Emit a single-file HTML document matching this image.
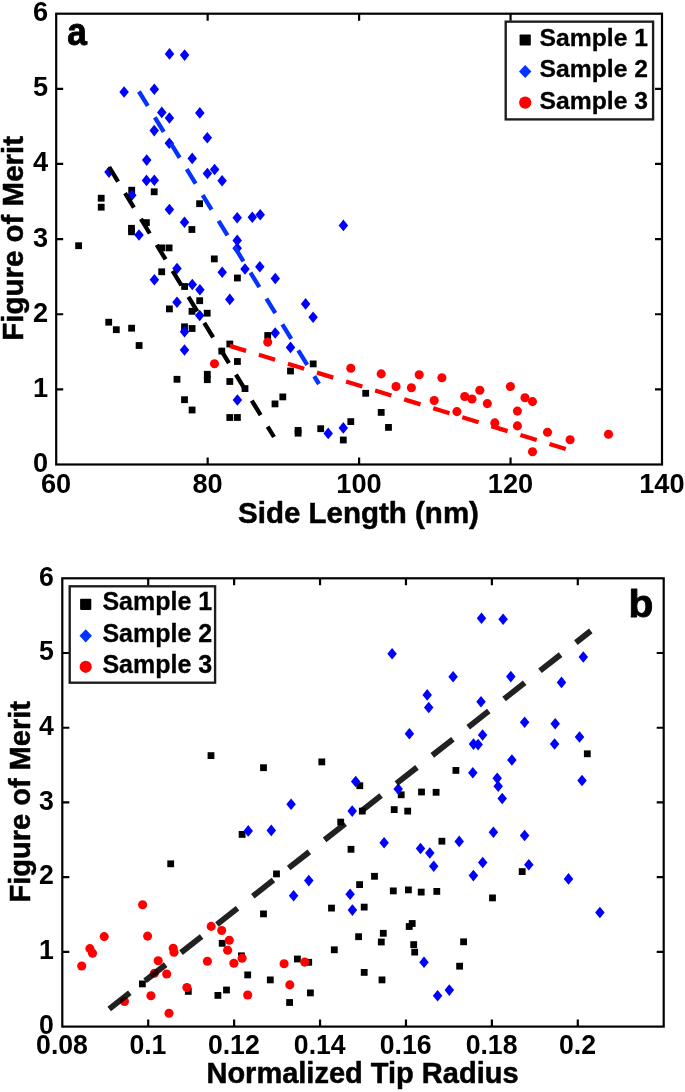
<!DOCTYPE html>
<html><head><meta charset="utf-8"><title>Figure</title>
<style>
html,body{margin:0;padding:0;background:#fff}
svg{display:block}
text{font-family:"Liberation Sans",Arial,Helvetica,sans-serif;font-weight:bold;fill:#000}
.tk{font-size:27.2px}
.ax{font-size:29.5px;stroke:#000;stroke-width:0.5px;stroke-linejoin:round}
.axb{font-size:29px;stroke:#000;stroke-width:0.5px;stroke-linejoin:round}
.lg{font-size:24.7px;stroke:#000;stroke-width:0.3px}
.pl{font-size:39px;stroke:#000;stroke-width:0.9px;stroke-linejoin:round}
</style></head><body>
<svg width="685" height="1092" viewBox="0 0 685 1092">
<rect width="685" height="1092" fill="#fff"/>

<g id="plot-a">
<g fill="#000"><rect x="97.80" y="194.80" width="6.8" height="6.8"/><rect x="97.80" y="203.80" width="6.8" height="6.8"/><rect x="75.20" y="242.30" width="6.8" height="6.8"/><rect x="128.30" y="186.80" width="6.8" height="6.8"/><rect x="150.80" y="188.40" width="6.8" height="6.8"/><rect x="196.20" y="200.30" width="6.8" height="6.8"/><rect x="128.10" y="224.90" width="6.8" height="6.8"/><rect x="128.10" y="228.40" width="6.8" height="6.8"/><rect x="143.00" y="219.20" width="6.8" height="6.8"/><rect x="188.50" y="226.10" width="6.8" height="6.8"/><rect x="158.40" y="244.50" width="6.8" height="6.8"/><rect x="165.70" y="244.50" width="6.8" height="6.8"/><rect x="210.90" y="255.50" width="6.8" height="6.8"/><rect x="158.30" y="268.40" width="6.8" height="6.8"/><rect x="181.20" y="283.10" width="6.8" height="6.8"/><rect x="196.30" y="297.30" width="6.8" height="6.8"/><rect x="166.00" y="305.50" width="6.8" height="6.8"/><rect x="188.60" y="307.90" width="6.8" height="6.8"/><rect x="203.80" y="309.80" width="6.8" height="6.8"/><rect x="105.30" y="318.80" width="6.8" height="6.8"/><rect x="112.90" y="326.30" width="6.8" height="6.8"/><rect x="128.20" y="324.80" width="6.8" height="6.8"/><rect x="135.70" y="342.10" width="6.8" height="6.8"/><rect x="181.10" y="323.40" width="6.8" height="6.8"/><rect x="188.70" y="325.10" width="6.8" height="6.8"/><rect x="218.40" y="347.70" width="6.8" height="6.8"/><rect x="226.40" y="340.60" width="6.8" height="6.8"/><rect x="173.60" y="375.90" width="6.8" height="6.8"/><rect x="203.90" y="370.90" width="6.8" height="6.8"/><rect x="203.90" y="376.30" width="6.8" height="6.8"/><rect x="226.40" y="378.10" width="6.8" height="6.8"/><rect x="181.10" y="396.30" width="6.8" height="6.8"/><rect x="188.70" y="406.60" width="6.8" height="6.8"/><rect x="234.00" y="274.60" width="6.8" height="6.8"/><rect x="264.30" y="332.10" width="6.8" height="6.8"/><rect x="234.00" y="358.10" width="6.8" height="6.8"/><rect x="287.10" y="367.60" width="6.8" height="6.8"/><rect x="241.60" y="385.20" width="6.8" height="6.8"/><rect x="279.40" y="393.50" width="6.8" height="6.8"/><rect x="271.60" y="400.50" width="6.8" height="6.8"/><rect x="226.40" y="414.10" width="6.8" height="6.8"/><rect x="234.00" y="414.10" width="6.8" height="6.8"/><rect x="294.70" y="427.00" width="6.8" height="6.8"/><rect x="294.70" y="429.80" width="6.8" height="6.8"/><rect x="309.80" y="360.50" width="6.8" height="6.8"/><rect x="317.30" y="425.30" width="6.8" height="6.8"/><rect x="347.40" y="418.20" width="6.8" height="6.8"/><rect x="339.90" y="436.60" width="6.8" height="6.8"/><rect x="362.30" y="389.90" width="6.8" height="6.8"/><rect x="377.80" y="409.00" width="6.8" height="6.8"/><rect x="385.10" y="424.00" width="6.8" height="6.8"/></g>
<g fill="#00f"><path d="M169.50 48.10l4.75 5.80l-4.75 5.80l-4.75 -5.80z"/><path d="M184.60 49.30l4.75 5.80l-4.75 5.80l-4.75 -5.80z"/><path d="M124.10 86.20l4.75 5.80l-4.75 5.80l-4.75 -5.80z"/><path d="M154.30 83.50l4.75 5.80l-4.75 5.80l-4.75 -5.80z"/><path d="M161.80 106.60l4.75 5.80l-4.75 5.80l-4.75 -5.80z"/><path d="M169.40 112.20l4.75 5.80l-4.75 5.80l-4.75 -5.80z"/><path d="M199.80 107.10l4.75 5.80l-4.75 5.80l-4.75 -5.80z"/><path d="M154.20 124.80l4.75 5.80l-4.75 5.80l-4.75 -5.80z"/><path d="M207.30 132.00l4.75 5.80l-4.75 5.80l-4.75 -5.80z"/><path d="M169.30 137.40l4.75 5.80l-4.75 5.80l-4.75 -5.80z"/><path d="M192.20 152.60l4.75 5.80l-4.75 5.80l-4.75 -5.80z"/><path d="M146.70 154.30l4.75 5.80l-4.75 5.80l-4.75 -5.80z"/><path d="M109.00 166.30l4.75 5.80l-4.75 5.80l-4.75 -5.80z"/><path d="M146.50 174.60l4.75 5.80l-4.75 5.80l-4.75 -5.80z"/><path d="M154.30 174.40l4.75 5.80l-4.75 5.80l-4.75 -5.80z"/><path d="M207.40 167.70l4.75 5.80l-4.75 5.80l-4.75 -5.80z"/><path d="M214.60 163.70l4.75 5.80l-4.75 5.80l-4.75 -5.80z"/><path d="M222.10 175.00l4.75 5.80l-4.75 5.80l-4.75 -5.80z"/><path d="M131.80 189.50l4.75 5.80l-4.75 5.80l-4.75 -5.80z"/><path d="M169.40 203.70l4.75 5.80l-4.75 5.80l-4.75 -5.80z"/><path d="M184.50 216.50l4.75 5.80l-4.75 5.80l-4.75 -5.80z"/><path d="M139.00 229.20l4.75 5.80l-4.75 5.80l-4.75 -5.80z"/><path d="M177.00 262.70l4.75 5.80l-4.75 5.80l-4.75 -5.80z"/><path d="M154.40 274.00l4.75 5.80l-4.75 5.80l-4.75 -5.80z"/><path d="M222.20 266.50l4.75 5.80l-4.75 5.80l-4.75 -5.80z"/><path d="M192.30 278.70l4.75 5.80l-4.75 5.80l-4.75 -5.80z"/><path d="M199.90 283.90l4.75 5.80l-4.75 5.80l-4.75 -5.80z"/><path d="M177.00 296.40l4.75 5.80l-4.75 5.80l-4.75 -5.80z"/><path d="M199.70 309.70l4.75 5.80l-4.75 5.80l-4.75 -5.80z"/><path d="M184.50 326.00l4.75 5.80l-4.75 5.80l-4.75 -5.80z"/><path d="M184.50 344.20l4.75 5.80l-4.75 5.80l-4.75 -5.80z"/><path d="M229.80 293.60l4.75 5.80l-4.75 5.80l-4.75 -5.80z"/><path d="M245.00 263.20l4.75 5.80l-4.75 5.80l-4.75 -5.80z"/><path d="M259.80 261.00l4.75 5.80l-4.75 5.80l-4.75 -5.80z"/><path d="M275.30 272.70l4.75 5.80l-4.75 5.80l-4.75 -5.80z"/><path d="M237.20 211.90l4.75 5.80l-4.75 5.80l-4.75 -5.80z"/><path d="M252.30 211.40l4.75 5.80l-4.75 5.80l-4.75 -5.80z"/><path d="M260.20 209.00l4.75 5.80l-4.75 5.80l-4.75 -5.80z"/><path d="M343.40 219.60l4.75 5.80l-4.75 5.80l-4.75 -5.80z"/><path d="M237.20 234.60l4.75 5.80l-4.75 5.80l-4.75 -5.80z"/><path d="M237.20 242.40l4.75 5.80l-4.75 5.80l-4.75 -5.80z"/><path d="M275.20 327.20l4.75 5.80l-4.75 5.80l-4.75 -5.80z"/><path d="M290.50 341.60l4.75 5.80l-4.75 5.80l-4.75 -5.80z"/><path d="M237.40 394.20l4.75 5.80l-4.75 5.80l-4.75 -5.80z"/><path d="M328.20 427.60l4.75 5.80l-4.75 5.80l-4.75 -5.80z"/><path d="M343.30 422.10l4.75 5.80l-4.75 5.80l-4.75 -5.80z"/><path d="M305.60 298.10l4.75 5.80l-4.75 5.80l-4.75 -5.80z"/><path d="M313.10 311.40l4.75 5.80l-4.75 5.80l-4.75 -5.80z"/></g>
<g fill="#f00"><circle cx="214.50" cy="363.80" r="4.55"/><circle cx="267.70" cy="342.10" r="4.55"/><circle cx="350.80" cy="368.20" r="4.55"/><circle cx="381.20" cy="373.90" r="4.55"/><circle cx="396.00" cy="386.50" r="4.55"/><circle cx="411.40" cy="387.70" r="4.55"/><circle cx="419.20" cy="374.70" r="4.55"/><circle cx="434.20" cy="400.50" r="4.55"/><circle cx="441.90" cy="377.70" r="4.55"/><circle cx="456.90" cy="411.60" r="4.55"/><circle cx="464.70" cy="396.50" r="4.55"/><circle cx="472.00" cy="399.00" r="4.55"/><circle cx="479.80" cy="390.30" r="4.55"/><circle cx="487.30" cy="403.60" r="4.55"/><circle cx="494.80" cy="422.90" r="4.55"/><circle cx="510.40" cy="386.50" r="4.55"/><circle cx="517.40" cy="411.10" r="4.55"/><circle cx="517.40" cy="425.90" r="4.55"/><circle cx="525.00" cy="397.80" r="4.55"/><circle cx="532.50" cy="401.60" r="4.55"/><circle cx="532.50" cy="451.80" r="4.55"/><circle cx="547.50" cy="432.20" r="4.55"/><circle cx="570.10" cy="439.70" r="4.55"/><circle cx="608.50" cy="434.20" r="4.55"/></g>
<g fill="none" stroke-width="4.3" stroke-dasharray="17 13.4">
<path d="M109.2 167.1L274 437" stroke="#000"/>
<path d="M229.8 345.9L567.8 449.6" stroke="#f00"/>
<path d="M138.9 91.5L319 384" stroke="#0433ff"/>
</g>
<rect x="56.2" y="13.7" width="605.8" height="450.8" fill="none" stroke="#000" stroke-width="2.2"/><path d="M207.65 464.5v-7.0M207.65 13.7v7.0M359.10 464.5v-7.0M359.10 13.7v7.0M510.55 464.5v-7.0M510.55 13.7v7.0M56.2 88.83h7.0M662.0 88.83h-7.0M56.2 163.97h7.0M662.0 163.97h-7.0M56.2 239.10h7.0M662.0 239.10h-7.0M56.2 314.23h7.0M662.0 314.23h-7.0M56.2 389.37h7.0M662.0 389.37h-7.0" stroke="#000" stroke-width="2.2" fill="none"/>
<rect x="505.7" y="21.65" width="147.4" height="97.75" fill="#fff" stroke="#1c1c1c" stroke-width="2.35"/><rect x="519.6" y="34.4" width="11.2" height="11.2" rx="0.8" fill="#000"/><path d="M525.2 64.9l6.2 6.6l-6.2 6.6l-6.2 -6.6z" fill="#0433ff"/><circle cx="525.2" cy="102.6" r="6.1" fill="#f00"/><text x="539.6" y="45.9" class="lg" style="font-size:24.7px">Sample 1</text><text x="539.6" y="77.4" class="lg" style="font-size:24.7px">Sample 2</text><text x="539.6" y="108.5" class="lg" style="font-size:24.7px">Sample 3</text>
<text transform="translate(56.10 492.50) scale(1.0 1)" text-anchor="middle" class="tk">60</text>
<text transform="translate(207.55 492.50) scale(1.0 1)" text-anchor="middle" class="tk">80</text>
<text transform="translate(359.00 492.50) scale(1.0 1)" text-anchor="middle" class="tk">100</text>
<text transform="translate(510.45 492.50) scale(1.0 1)" text-anchor="middle" class="tk">120</text>
<text transform="translate(661.90 492.50) scale(1.0 1)" text-anchor="middle" class="tk">140</text>
<text transform="translate(48.00 21.20) scale(1.0 1)" text-anchor="end" class="tk">6</text>
<text transform="translate(48.00 96.33) scale(1.0 1)" text-anchor="end" class="tk">5</text>
<text transform="translate(48.00 171.47) scale(1.0 1)" text-anchor="end" class="tk">4</text>
<text transform="translate(48.00 246.60) scale(1.0 1)" text-anchor="end" class="tk">3</text>
<text transform="translate(48.00 321.73) scale(1.0 1)" text-anchor="end" class="tk">2</text>
<text transform="translate(48.00 396.87) scale(1.0 1)" text-anchor="end" class="tk">1</text>
<text transform="translate(48.00 472.00) scale(1.0 1)" text-anchor="end" class="tk">0</text>
<text x="358.5" y="523.0" text-anchor="middle" class="ax">Side Length (nm)</text>
<text transform="translate(23.3 238.4) rotate(-90)" text-anchor="middle" class="ax">Figure of Merit</text>
<text transform="translate(67.2 45.4) scale(0.93 1)" class="pl" style="font-size:38px">a</text>
</g>
<g id="plot-b">
<g fill="#000"><rect x="167.30" y="860.40" width="6.8" height="6.8"/><rect x="218.80" y="939.90" width="6.8" height="6.8"/><rect x="139.00" y="980.50" width="6.8" height="6.8"/><rect x="184.90" y="988.00" width="6.8" height="6.8"/><rect x="214.50" y="992.00" width="6.8" height="6.8"/><rect x="223.10" y="986.60" width="6.8" height="6.8"/><rect x="260.10" y="910.50" width="6.8" height="6.8"/><rect x="238.00" y="952.40" width="6.8" height="6.8"/><rect x="244.30" y="971.50" width="6.8" height="6.8"/><rect x="266.90" y="976.50" width="6.8" height="6.8"/><rect x="294.00" y="955.60" width="6.8" height="6.8"/><rect x="305.30" y="958.90" width="6.8" height="6.8"/><rect x="307.00" y="989.50" width="6.8" height="6.8"/><rect x="286.20" y="999.10" width="6.8" height="6.8"/><rect x="328.10" y="904.70" width="6.8" height="6.8"/><rect x="360.80" y="903.70" width="6.8" height="6.8"/><rect x="355.20" y="933.30" width="6.8" height="6.8"/><rect x="330.90" y="946.40" width="6.8" height="6.8"/><rect x="360.80" y="969.00" width="6.8" height="6.8"/><rect x="379.90" y="929.90" width="6.8" height="6.8"/><rect x="377.90" y="938.60" width="6.8" height="6.8"/><rect x="378.60" y="976.50" width="6.8" height="6.8"/><rect x="207.60" y="752.20" width="6.8" height="6.8"/><rect x="260.10" y="764.30" width="6.8" height="6.8"/><rect x="318.40" y="758.50" width="6.8" height="6.8"/><rect x="238.70" y="831.00" width="6.8" height="6.8"/><rect x="356.40" y="782.30" width="6.8" height="6.8"/><rect x="397.80" y="791.40" width="6.8" height="6.8"/><rect x="418.10" y="788.60" width="6.8" height="6.8"/><rect x="432.70" y="788.90" width="6.8" height="6.8"/><rect x="452.50" y="767.00" width="6.8" height="6.8"/><rect x="358.90" y="807.70" width="6.8" height="6.8"/><rect x="390.80" y="806.20" width="6.8" height="6.8"/><rect x="404.30" y="807.70" width="6.8" height="6.8"/><rect x="337.30" y="818.70" width="6.8" height="6.8"/><rect x="347.60" y="845.90" width="6.8" height="6.8"/><rect x="438.50" y="837.80" width="6.8" height="6.8"/><rect x="371.10" y="872.90" width="6.8" height="6.8"/><rect x="389.90" y="887.50" width="6.8" height="6.8"/><rect x="405.00" y="886.50" width="6.8" height="6.8"/><rect x="417.80" y="888.70" width="6.8" height="6.8"/><rect x="433.40" y="888.00" width="6.8" height="6.8"/><rect x="489.10" y="894.50" width="6.8" height="6.8"/><rect x="518.80" y="868.20" width="6.8" height="6.8"/><rect x="408.80" y="920.10" width="6.8" height="6.8"/><rect x="405.80" y="923.10" width="6.8" height="6.8"/><rect x="410.30" y="941.20" width="6.8" height="6.8"/><rect x="411.30" y="948.70" width="6.8" height="6.8"/><rect x="460.20" y="938.40" width="6.8" height="6.8"/><rect x="456.20" y="962.80" width="6.8" height="6.8"/><rect x="583.90" y="750.40" width="6.8" height="6.8"/><rect x="273.10" y="870.50" width="6.8" height="6.8"/><rect x="356.20" y="881.20" width="6.8" height="6.8"/></g>
<g fill="#00f"><path d="M293.60 890.00l4.75 5.80l-4.75 5.80l-4.75 -5.80z"/><path d="M350.10 888.50l4.75 5.80l-4.75 5.80l-4.75 -5.80z"/><path d="M352.40 904.30l4.75 5.80l-4.75 5.80l-4.75 -5.80z"/><path d="M291.10 798.50l4.75 5.80l-4.75 5.80l-4.75 -5.80z"/><path d="M248.20 825.10l4.75 5.80l-4.75 5.80l-4.75 -5.80z"/><path d="M271.30 824.60l4.75 5.80l-4.75 5.80l-4.75 -5.80z"/><path d="M409.40 727.90l4.75 5.80l-4.75 5.80l-4.75 -5.80z"/><path d="M473.50 738.30l4.75 5.80l-4.75 5.80l-4.75 -5.80z"/><path d="M478.10 738.80l4.75 5.80l-4.75 5.80l-4.75 -5.80z"/><path d="M472.80 766.90l4.75 5.80l-4.75 5.80l-4.75 -5.80z"/><path d="M355.70 775.70l4.75 5.80l-4.75 5.80l-4.75 -5.80z"/><path d="M398.20 783.20l4.75 5.80l-4.75 5.80l-4.75 -5.80z"/><path d="M352.20 805.30l4.75 5.80l-4.75 5.80l-4.75 -5.80z"/><path d="M384.10 836.90l4.75 5.80l-4.75 5.80l-4.75 -5.80z"/><path d="M459.20 835.60l4.75 5.80l-4.75 5.80l-4.75 -5.80z"/><path d="M420.50 842.70l4.75 5.80l-4.75 5.80l-4.75 -5.80z"/><path d="M429.80 847.20l4.75 5.80l-4.75 5.80l-4.75 -5.80z"/><path d="M433.70 860.40l4.75 5.80l-4.75 5.80l-4.75 -5.80z"/><path d="M482.70 856.70l4.75 5.80l-4.75 5.80l-4.75 -5.80z"/><path d="M473.40 869.80l4.75 5.80l-4.75 5.80l-4.75 -5.80z"/><path d="M528.80 859.00l4.75 5.80l-4.75 5.80l-4.75 -5.80z"/><path d="M424.00 956.40l4.75 5.80l-4.75 5.80l-4.75 -5.80z"/><path d="M449.30 984.30l4.75 5.80l-4.75 5.80l-4.75 -5.80z"/><path d="M437.60 990.00l4.75 5.80l-4.75 5.80l-4.75 -5.80z"/><path d="M482.60 729.20l4.75 5.80l-4.75 5.80l-4.75 -5.80z"/><path d="M511.90 754.20l4.75 5.80l-4.75 5.80l-4.75 -5.80z"/><path d="M497.20 772.40l4.75 5.80l-4.75 5.80l-4.75 -5.80z"/><path d="M498.20 780.40l4.75 5.80l-4.75 5.80l-4.75 -5.80z"/><path d="M502.20 792.70l4.75 5.80l-4.75 5.80l-4.75 -5.80z"/><path d="M554.60 738.20l4.75 5.80l-4.75 5.80l-4.75 -5.80z"/><path d="M579.50 731.20l4.75 5.80l-4.75 5.80l-4.75 -5.80z"/><path d="M582.00 774.70l4.75 5.80l-4.75 5.80l-4.75 -5.80z"/><path d="M493.40 826.40l4.75 5.80l-4.75 5.80l-4.75 -5.80z"/><path d="M524.60 829.70l4.75 5.80l-4.75 5.80l-4.75 -5.80z"/><path d="M481.50 612.50l4.75 5.80l-4.75 5.80l-4.75 -5.80z"/><path d="M503.10 613.50l4.75 5.80l-4.75 5.80l-4.75 -5.80z"/><path d="M392.10 647.90l4.75 5.80l-4.75 5.80l-4.75 -5.80z"/><path d="M453.10 671.00l4.75 5.80l-4.75 5.80l-4.75 -5.80z"/><path d="M510.80 670.80l4.75 5.80l-4.75 5.80l-4.75 -5.80z"/><path d="M427.20 689.10l4.75 5.80l-4.75 5.80l-4.75 -5.80z"/><path d="M428.70 701.70l4.75 5.80l-4.75 5.80l-4.75 -5.80z"/><path d="M481.00 695.90l4.75 5.80l-4.75 5.80l-4.75 -5.80z"/><path d="M524.60 716.50l4.75 5.80l-4.75 5.80l-4.75 -5.80z"/><path d="M583.30 651.20l4.75 5.80l-4.75 5.80l-4.75 -5.80z"/><path d="M561.50 676.60l4.75 5.80l-4.75 5.80l-4.75 -5.80z"/><path d="M555.20 717.90l4.75 5.80l-4.75 5.80l-4.75 -5.80z"/><path d="M568.50 873.10l4.75 5.80l-4.75 5.80l-4.75 -5.80z"/><path d="M599.90 906.70l4.75 5.80l-4.75 5.80l-4.75 -5.80z"/><path d="M308.80 874.80l4.75 5.80l-4.75 5.80l-4.75 -5.80z"/></g>
<g fill="#f00"><circle cx="142.60" cy="904.70" r="4.55"/><circle cx="104.20" cy="936.60" r="4.55"/><circle cx="147.60" cy="936.10" r="4.55"/><circle cx="89.90" cy="948.60" r="4.55"/><circle cx="92.50" cy="953.30" r="4.55"/><circle cx="81.70" cy="966.00" r="4.55"/><circle cx="173.20" cy="948.30" r="4.55"/><circle cx="174.00" cy="952.20" r="4.55"/><circle cx="158.20" cy="960.70" r="4.55"/><circle cx="154.40" cy="973.30" r="4.55"/><circle cx="166.70" cy="974.00" r="4.55"/><circle cx="211.20" cy="926.40" r="4.55"/><circle cx="221.70" cy="930.50" r="4.55"/><circle cx="229.30" cy="940.20" r="4.55"/><circle cx="227.60" cy="950.30" r="4.55"/><circle cx="207.40" cy="961.20" r="4.55"/><circle cx="186.90" cy="987.50" r="4.55"/><circle cx="150.90" cy="995.70" r="4.55"/><circle cx="124.50" cy="1001.50" r="4.55"/><circle cx="169.00" cy="1013.30" r="4.55"/><circle cx="233.90" cy="963.30" r="4.55"/><circle cx="242.10" cy="958.30" r="4.55"/><circle cx="247.70" cy="995.00" r="4.55"/><circle cx="284.10" cy="963.80" r="4.55"/><circle cx="304.70" cy="962.10" r="4.55"/><circle cx="289.80" cy="984.90" r="4.55"/></g>
<path d="M109.2 1009L590.8 630.9" fill="none" stroke="#000" stroke-opacity="0.87" stroke-width="5.8" stroke-dasharray="26.2 19.44"/>
<rect x="62.3" y="578.3" width="601.4000000000001" height="448.29999999999995" fill="none" stroke="#000" stroke-width="2.2"/><path d="M148.21 1026.6v-7.0M148.21 578.3v7.0M234.13 1026.6v-7.0M234.13 578.3v7.0M320.04 1026.6v-7.0M320.04 578.3v7.0M405.96 1026.6v-7.0M405.96 578.3v7.0M491.87 1026.6v-7.0M491.87 578.3v7.0M577.79 1026.6v-7.0M577.79 578.3v7.0M62.3 653.02h7.0M663.7 653.02h-7.0M62.3 727.73h7.0M663.7 727.73h-7.0M62.3 802.45h7.0M663.7 802.45h-7.0M62.3 877.17h7.0M663.7 877.17h-7.0M62.3 951.88h7.0M663.7 951.88h-7.0" stroke="#000" stroke-width="2.2" fill="none"/>
<rect x="69.7" y="586.3" width="145.4" height="96.4" fill="#fff" stroke="#1c1c1c" stroke-width="2.35"/><rect x="80.10000000000001" y="598.6999999999999" width="11.2" height="11.2" rx="0.8" fill="#000"/><path d="M85.7 629.1999999999999l6.2 6.6l-6.2 6.6l-6.2 -6.6z" fill="#0433ff"/><circle cx="85.7" cy="666.8" r="6.1" fill="#f00"/><text x="102.4" y="610.1999999999999" class="lg" style="font-size:25.0px">Sample 1</text><text x="102.4" y="641.6999999999999" class="lg" style="font-size:25.0px">Sample 2</text><text x="102.4" y="672.6999999999999" class="lg" style="font-size:25.0px">Sample 3</text>
<text transform="translate(62.00 1053.60) scale(0.98 1)" text-anchor="middle" class="tk">0.08</text>
<text transform="translate(147.91 1053.60) scale(0.98 1)" text-anchor="middle" class="tk">0.1</text>
<text transform="translate(233.83 1053.60) scale(0.98 1)" text-anchor="middle" class="tk">0.12</text>
<text transform="translate(319.74 1053.60) scale(0.98 1)" text-anchor="middle" class="tk">0.14</text>
<text transform="translate(405.66 1053.60) scale(0.98 1)" text-anchor="middle" class="tk">0.16</text>
<text transform="translate(491.57 1053.60) scale(0.98 1)" text-anchor="middle" class="tk">0.18</text>
<text transform="translate(577.49 1053.60) scale(0.98 1)" text-anchor="middle" class="tk">0.2</text>
<text transform="translate(53.90 585.50) scale(0.98 1)" text-anchor="end" class="tk">6</text>
<text transform="translate(53.90 660.22) scale(0.98 1)" text-anchor="end" class="tk">5</text>
<text transform="translate(53.90 734.93) scale(0.98 1)" text-anchor="end" class="tk">4</text>
<text transform="translate(53.90 809.65) scale(0.98 1)" text-anchor="end" class="tk">3</text>
<text transform="translate(53.90 884.37) scale(0.98 1)" text-anchor="end" class="tk">2</text>
<text transform="translate(53.90 959.08) scale(0.98 1)" text-anchor="end" class="tk">1</text>
<text transform="translate(53.90 1033.80) scale(0.98 1)" text-anchor="end" class="tk">0</text>
<text x="362.5" y="1082.7" text-anchor="middle" class="axb">Normalized Tip Radius</text>
<text transform="translate(29.7 801.8) rotate(-90)" text-anchor="middle" class="axb">Figure of Merit</text>
<text transform="translate(628.6 617.3) scale(1.03 1)" class="pl" style="font-size:39.5px">b</text>
</g>
</svg>
</body></html>
